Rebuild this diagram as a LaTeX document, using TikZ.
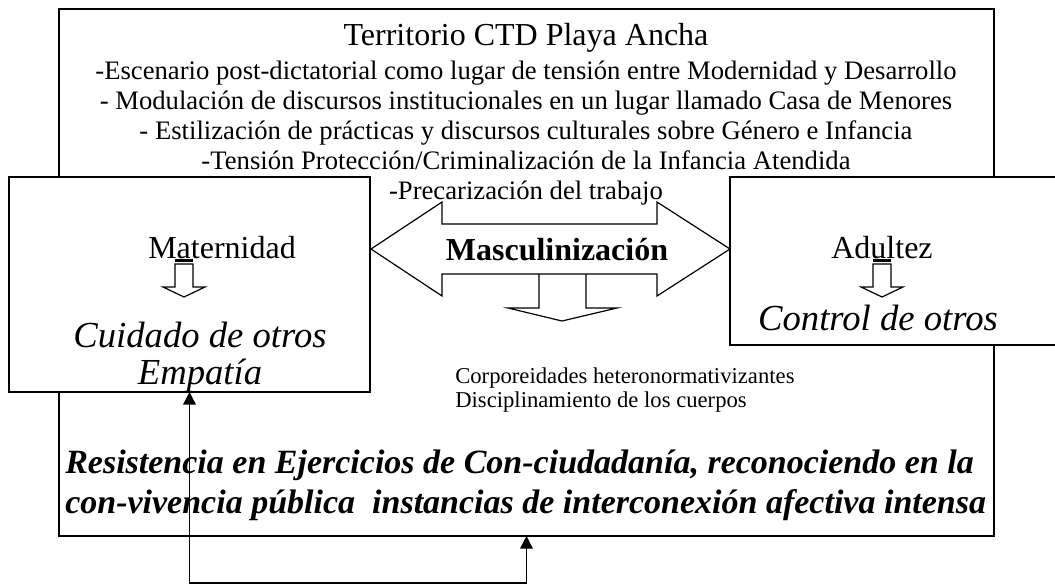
\documentclass[tikz,border=0pt]{standalone}
\usepackage{fontspec}
\setmainfont{Liberation Serif}
\usetikzlibrary{arrows.meta, positioning}
\tikzset{%
panel/.style={
    draw, line width=1.2pt, fill=white,
    anchor=north west, inner sep=0pt, outer sep=0pt
  },
label/.style={inner sep=0pt, font=\fontsize{24}{28}\selectfont},
note/.style={inner sep=0pt, align=center, font=\fontsize{20}{22.5}\selectfont},
role/.style={inner sep=0pt, anchor=base, font=\fontsize{27.5}{32}\selectfont\itshape},
shape line/.style={line width=0.9pt},
link/.style={line width=1.1pt, {Triangle[length=9.5pt,width=9.5pt]}-{Triangle[length=9.5pt,width=9.5pt]}},
smallarrow/.pic={
    \draw[shape line, fill=white] (-9,0) -- (9,0) -- (9,23) -- (21,23) -- (0,33) -- (-21,23) -- (-9,23) -- cycle;
    \draw[line width=2pt] (-9,-3.5) -- (9,-3.5);
  }
}

\begin{document}
\begin{tikzpicture}[x=0.75pt, y=-0.75pt]
\useasboundingbox (0,0) rectangle (1055,585);

\node[panel, minimum width=701.25pt, minimum height=395.25pt] (terr) at (59,9) {};
\node[panel, minimum width=270.75pt, minimum height=161.25pt] (mat) at (9,177) {};
\node[panel, minimum width=255pt, minimum height=126pt] (adu) at (730,177) {};

\node[label] (ttl) at (526,38) {Territorio CTD Playa Ancha};
\node[note] (lst) at (526,133) {%
  -Escenario post-dictatorial como lugar de tensión entre Modernidad y Desarrollo\\
  - Modulación de discursos institucionales en un lugar llamado Casa de Menores\\
  - Estilización de prácticas y discursos culturales sobre Género e Infancia\\
  -Tensión Protección/Criminalización de la Infancia Atendida\\
  -Precarización del trabajo};

% masculinizacion
\draw[shape line] (371,249) -- (442,202) -- (442,224) -- (657,224) -- (657,202) -- (730,249)
   -- (657,296) -- (657,274) -- (442,274) -- (442,296) -- cycle;
\draw[shape line] (539,274) -- (539,308) -- (508,308) -- (562,321) -- (617,308) -- (586,308) -- (586,274);
\node[inner sep=0pt, font=\fontsize{24}{28}\selectfont\bfseries] (masc) at (557,250) {Masculinización};

\node[label] (matl) at (222,248) {Maternidad};
\pic at (184,264) {smallarrow};
\node[role] (cui) at (200,347) {Cuidado de otros};
\node[role] (emp) at (200,384) {Empatía};

\node[label] (adul) at (882,248) {Adultez};
\pic at (882,264) {smallarrow};
\node[role] (ctl) at (878,330) {Control de otros};

\node[inner sep=0pt, anchor=west, align=left, font=\fontsize{17}{18}\selectfont] (corp) at (455,390)
  {Corporeidades heteronormativizantes\\Disciplinamiento de los cuerpos};

\node[inner sep=0pt, anchor=west, align=left, font=\fontsize{25.5}{30}\selectfont\bfseries\itshape] (res) at (65,485)
  {Resistencia en Ejercicios de Con-ciudadanía, reconociendo en la\\
   con-vivencia pública~ instancias de interconexión afectiva intensa};

\draw[link] (mat.south) -- ++(0,191) -| (terr.south);
\end{tikzpicture}
\end{document}
